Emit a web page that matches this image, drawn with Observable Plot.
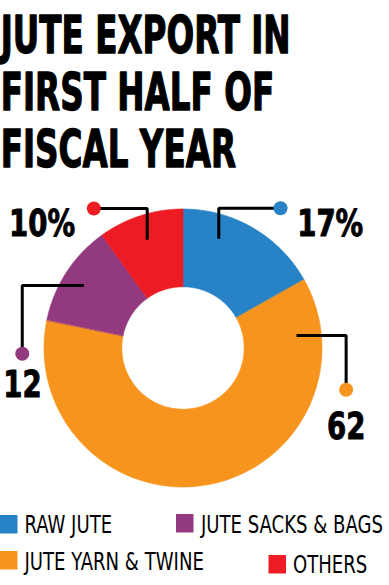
<!DOCTYPE html>
<html>
<head>
<meta charset="utf-8">
<script src="https://cdn.jsdelivr.net/npm/d3@7"></script>
<script src="https://cdn.jsdelivr.net/npm/@observablehq/plot@0.6"></script>
<style>
  html, body { margin: 0; padding: 0; background: #fff; }
  body { width: 389px; height: 585px; overflow: hidden; position: relative;
         font-family: "Liberation Sans Narrow", "Arial Narrow", "DejaVu Sans Condensed", sans-serif; }
  #title, #legend { position: absolute; left: 0; top: 0; }
  #chart { position: absolute; left: 0; top: 195px; }
  svg { display: block; }
</style>
</head>
<body>
<div id="title"></div>
<div id="chart"></div>
<div id="legend"></div>
<script>
// ---------- data ----------
const titleLines = ["JUTE EXPORT IN", "FIRST HALF OF", "FISCAL YEAR"];
const categories = ["RAW JUTE", "JUTE YARN & TWINE", "JUTE SACKS & BAGS", "OTHERS"];
const shares = [17, 62, 12, 10];
const valueLabels = ["17%", "62", "12", "10%"];
const colors = ["#2882c6", "#f7941d", "#933980", "#ed1c24"];

// ---------- layout (unit = outer radius) ----------
const innerRatio = 0.44;
const leaderLayout = [
  {cat: "RAW JUTE", path: [[0.254, 0.789], [0.254, 1.009], [0.698, 1.009]], label: [0.818, 0.806], anchor: "start"},
  {cat: "JUTE YARN & TWINE", path: [[0.813, 0.094], [1.170, 0.094], [1.170, -0.297]], label: [1.171, -0.650], anchor: "middle"},
  {cat: "JUTE SACKS & BAGS", path: [[-0.717, 0.453], [-1.160, 0.453], [-1.160, -0.038]], label: [-1.158, -0.350], anchor: "middle"},
  {cat: "OTHERS", path: [[-0.261, 0.782], [-0.261, 1.007], [-0.645, 1.007]], label: [-0.780, 0.806], anchor: "end"}
];
const legendLayout = [
  {cat: "RAW JUTE", sx: 0, sy: 515, tx: 24.5, base: 533.3},
  {cat: "JUTE SACKS & BAGS", sx: 176, sy: 514, tx: 201, base: 533.3},
  {cat: "JUTE YARN & TWINE", sx: 0, sy: 551, tx: 24.5, base: 570},
  {cat: "OTHERS", sx: 268.5, sy: 555, tx: 293, base: 573}
];

const FONT = '"Liberation Sans Narrow", "Arial Narrow", "DejaVu Sans Condensed", sans-serif';

// ---------- title ----------
{
  const svg = d3.select("#title").append("svg").attr("width", 389).attr("height", 195);
  const g = svg.append("g");
  const baselines = [53.3, 110, 166.7];
  const texts = g.selectAll("text").data(titleLines).join("text")
    .attr("x", 1).attr("y", (d, i) => baselines[i])
    .attr("font-family", FONT).attr("font-weight", "bold").attr("font-size", 52)
    .attr("fill", "#000").attr("stroke", "#000").attr("stroke-width", 1.3)
    .attr("stroke-linejoin", "round").text(d => d);
  const w = texts.node().getComputedTextLength();
  const k = 290 / w;
  g.attr("transform", `scale(${k},1)`);
}

// ---------- donut ----------
const pie = d3.pie().sort(null).value(d => d.share)(categories.map((c, i) => ({cat: c, share: shares[i]})));
const arcRows = [];
for (const a of pie) {
  const n = 90;
  for (let j = 0; j <= n; j++) {
    const t = a.startAngle + (a.endAngle - a.startAngle) * j / n;
    arcRows.push({
      cat: a.data.cat,
      x1: innerRatio * Math.sin(t), y1: innerRatio * Math.cos(t),
      x2: Math.sin(t), y2: Math.cos(t)
    });
  }
}
const leaderPts = leaderLayout.flatMap(l => l.path.map(([x, y]) => ({cat: l.cat, x, y})));
const dotPts = leaderLayout.map(l => ({cat: l.cat, x: l.path[2][0], y: l.path[2][1]}));
const labelPts = leaderLayout.map(l => ({
  cat: l.cat, x: l.label[0], y: l.label[1], anchor: l.anchor,
  text: valueLabels[categories.indexOf(l.cat)]
}));

const cx = 183, cy = 153, R = 139;
const chart = Plot.plot({
  width: 389,
  height: 305,
  margin: 0,
  style: {fontFamily: FONT, background: "transparent", overflow: "visible"},
  x: {domain: [-1, 1], range: [cx - R, cx + R], axis: null},
  y: {domain: [-1, 1], range: [cy + R, cy - R], axis: null},
  color: {domain: categories, range: colors},
  marks: [
    Plot.area(arcRows, {x1: "x1", y1: "y1", x2: "x2", y2: "y2", z: "cat", fill: "cat", stroke: "cat", strokeWidth: 0.6, curve: "linear"}),
    Plot.line(leaderPts, {x: "x", y: "y", z: "cat", stroke: "#000", strokeWidth: 3, strokeLinejoin: "miter", strokeLinecap: "butt", curve: "linear"}),
    Plot.dot(dotPts, {x: "x", y: "y", fill: "cat", r: 7}),
    ...["start", "middle", "end"].map(anchor =>
      Plot.text(labelPts.filter(d => d.anchor === anchor), {
        x: "x", y: "y", text: "text", textAnchor: anchor, lineAnchor: "bottom",
        fontSize: 37, fontWeight: "bold", fill: "#000", stroke: "#000", strokeWidth: 0.9
      }))
  ]
});
document.getElementById("chart").appendChild(chart);

// condense the value labels (the reference uses a condensed face)
{
  const texts = Array.from(chart.querySelectorAll("text"));
  const ref = texts.find(t => t.textContent === "10%");
  const k = ref ? 66 / ref.getComputedTextLength() : 1;
  for (const t of texts) {
    const tr = t.getAttribute("transform");
    if (tr) {
      t.setAttribute("transform", `${tr} scale(${k},1)`);
    } else {
      const x = +t.getAttribute("x") || 0;
      t.setAttribute("transform", `translate(${x * (1 - k)},0) scale(${k},1)`);
    }
  }
}

// ---------- legend ----------
{
  const svg = d3.select("#legend").append("svg").attr("width", 389).attr("height", 585);
  const items = svg.selectAll("g").data(legendLayout).join("g");
  items.append("rect")
    .attr("x", d => d.sx).attr("y", d => d.sy).attr("width", 17.5).attr("height", 18.5)
    .attr("fill", d => colors[categories.indexOf(d.cat)]);
  const texts = items.append("text")
    .attr("font-family", FONT).attr("font-size", 24).attr("fill", "#000")
    .text(d => d.cat);
  const ref = texts.filter(d => d.cat === "JUTE SACKS & BAGS").node().getComputedTextLength();
  const k = 182 / ref;
  texts.attr("transform", d => `translate(${d.tx},${d.base}) scale(${k},1)`);
}
</script>
</body>
</html>
